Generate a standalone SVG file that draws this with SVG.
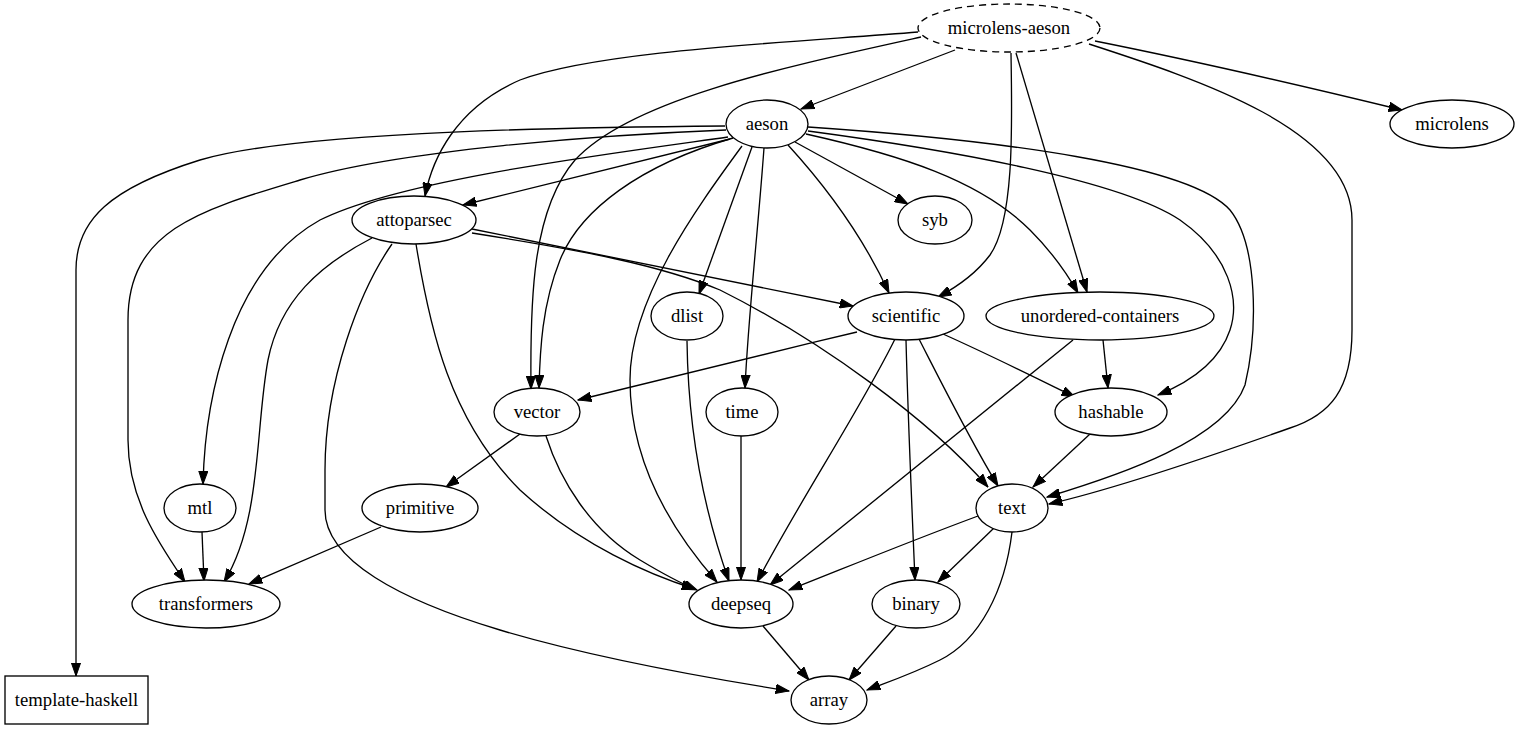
<svg xmlns="http://www.w3.org/2000/svg" width="1518" height="731" viewBox="0 0 1518 731">
<style>
.n ellipse,.n rect{fill:#fff;stroke:#000;stroke-width:1.33}
.n text{font-family:"Liberation Serif","Times New Roman",serif;font-size:18.67px;fill:#000;text-anchor:middle}
.e path{fill:none;stroke:#000;stroke-width:1.33;marker-end:url(#ah)}
</style>
<defs>
<marker id="ah" markerUnits="userSpaceOnUse" markerWidth="14" markerHeight="10" viewBox="0 0 14 10" refX="13.3" refY="5" orient="auto">
<path d="M0,0.33 L13.3,5 L0,9.67 z" fill="#000" stroke="#000" stroke-width="1"/>
</marker>
</defs>
<rect width="1518" height="731" fill="#fff"/>
<g id="edges" class="e">
<path d="M955,50 L801,109"/>
<path d="M1095,41 C1200,62 1320,90 1402,110"/>
<path d="M918,32 C800,42 600,50 520,80 C455,108 432,160 425,196"/>
<path d="M921,37 C780,68 630,100 575,160 C532,210 530,300 531,389"/>
<path d="M1089,44 C1200,80 1352,130 1352,220 L1352,330 C1352,390 1330,415 1290,428 C1200,460 1110,490 1049,504"/>
<path d="M1011,53 C1012,120 1015,220 990,255 C975,275 955,288 938,297"/>
<path d="M1016,53 L1087,292"/>
<path d="M725,126 C600,127 300,130 200,160 C110,188 76,220 76,270 L76,676"/>
<path d="M726,130 C600,135 400,150 300,180 C200,210 128,230 128,320 L128,440 C128,500 160,545 185,582"/>
<path d="M728,137 C600,155 400,180 320,220 C230,270 205,400 203,484"/>
<path d="M730,139 L463,205"/>
<path d="M733,138 C640,165 580,210 560,260 C542,305 540,350 539,388"/>
<path d="M742,146 C695,210 630,300 630,380 C630,470 680,540 717,582"/>
<path d="M752,147 L699,294"/>
<path d="M764,148 C758,230 748,320 745,388"/>
<path d="M788,145 C820,180 860,230 889,293"/>
<path d="M795,142 L908,204"/>
<path d="M806,134 C900,155 980,180 1030,230 C1050,250 1065,270 1078,293"/>
<path d="M808,131 C950,150 1120,180 1180,220 C1230,255 1240,300 1230,330 C1220,360 1195,380 1158,395"/>
<path d="M808,127 C1000,140 1190,165 1230,210 C1258,245 1258,330 1245,385 C1225,440 1120,475 1047,497"/>
<path d="M472,229 L853,306"/>
<path d="M472,233 C580,250 660,265 720,290 C820,340 930,420 988,487"/>
<path d="M372,238 C320,265 280,300 268,360 C255,430 262,520 224,582"/>
<path d="M392,244 C360,290 325,380 325,470 L325,510 C325,560 400,600 500,630 C600,660 720,680 789,691"/>
<path d="M416,244 C430,330 450,420 520,490 C580,545 650,575 695,589"/>
<path d="M857,332 C760,355 660,380 578,400"/>
<path d="M895,339 C860,410 800,500 757,582"/>
<path d="M906,340 C908,420 912,510 915,580"/>
<path d="M919,339 C940,380 970,440 998,486"/>
<path d="M943,334 C990,355 1030,375 1075,397"/>
<path d="M1103,340 L1108,388"/>
<path d="M1073,340 L770,585"/>
<path d="M1090,434 L1033,487"/>
<path d="M520,434 L446,487"/>
<path d="M546,436 C560,480 590,530 640,560 C665,575 680,583 697,590"/>
<path d="M687,341 C688,420 700,500 729,581"/>
<path d="M741,436 L741,580"/>
<path d="M202,532 L204,581"/>
<path d="M381,527 L249,584"/>
<path d="M978,516 C900,545 840,570 789,590"/>
<path d="M994,528 L938,582"/>
<path d="M1012,532 C1005,590 980,640 940,660 C910,675 885,683 867,690"/>
<path d="M763,626 L809,680"/>
<path d="M896,626 L849,680"/>
</g>
<g id="microlens-aeson" class="n"><ellipse cx="1009" cy="28" rx="91" ry="24" style="stroke-dasharray:7,5"/><text x="1009" y="34">microlens-aeson</text></g>
<g id="aeson" class="n"><ellipse cx="767" cy="124" rx="41" ry="24"/><text x="767" y="130">aeson</text></g>
<g id="microlens" class="n"><ellipse cx="1452" cy="124" rx="62" ry="24"/><text x="1452" y="130">microlens</text></g>
<g id="attoparsec" class="n"><ellipse cx="414" cy="220" rx="62" ry="24"/><text x="414" y="226">attoparsec</text></g>
<g id="syb" class="n"><ellipse cx="935" cy="220" rx="37" ry="24"/><text x="935" y="226">syb</text></g>
<g id="dlist" class="n"><ellipse cx="687" cy="316" rx="36" ry="24"/><text x="687" y="322">dlist</text></g>
<g id="scientific" class="n"><ellipse cx="906" cy="316" rx="58" ry="24"/><text x="906" y="322">scientific</text></g>
<g id="unordered-containers" class="n"><ellipse cx="1100" cy="316" rx="114" ry="24"/><text x="1100" y="322">unordered-containers</text></g>
<g id="vector" class="n"><ellipse cx="537" cy="412" rx="43" ry="24"/><text x="537" y="418">vector</text></g>
<g id="time" class="n"><ellipse cx="742" cy="412" rx="36" ry="24"/><text x="742" y="418">time</text></g>
<g id="hashable" class="n"><ellipse cx="1111" cy="412" rx="56" ry="24"/><text x="1111" y="418">hashable</text></g>
<g id="mtl" class="n"><ellipse cx="200" cy="508" rx="36" ry="24"/><text x="200" y="514">mtl</text></g>
<g id="primitive" class="n"><ellipse cx="420" cy="508" rx="58" ry="24"/><text x="420" y="514">primitive</text></g>
<g id="text" class="n"><ellipse cx="1012" cy="508" rx="36" ry="24"/><text x="1012" y="514">text</text></g>
<g id="transformers" class="n"><ellipse cx="206" cy="604" rx="74" ry="24"/><text x="206" y="610">transformers</text></g>
<g id="deepseq" class="n"><ellipse cx="741" cy="604" rx="52" ry="24"/><text x="741" y="610">deepseq</text></g>
<g id="binary" class="n"><ellipse cx="916" cy="604" rx="44" ry="24"/><text x="916" y="610">binary</text></g>
<g id="array" class="n"><ellipse cx="829" cy="700" rx="38" ry="24"/><text x="829" y="706">array</text></g>
<g id="template-haskell" class="n"><rect x="5" y="676" width="143" height="48"/><text x="76.5" y="706">template-haskell</text></g>
</svg>
